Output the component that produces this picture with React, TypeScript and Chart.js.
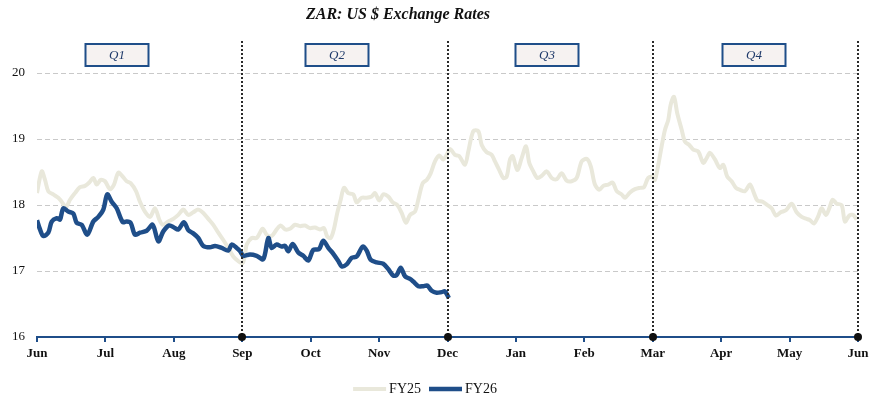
import React, { useEffect, useRef } from 'react';
import { Chart, registerables } from 'chart.js';

Chart.register(...registerables);

// ---------- data ----------
const monthLabels = ['Jun', 'Jul', 'Aug', 'Sep', 'Oct', 'Nov', 'Dec', 'Jan', 'Feb', 'Mar', 'Apr', 'May', 'Jun'];
const yTickValues = [16, 17, 18, 19, 20];
const quarterLabels = ['Q1', 'Q2', 'Q3', 'Q4'];
const quarterLabelPos = [1.17, 4.39, 7.46, 10.48]; // in month units
const quarterBounds = [3, 6, 9, 12]; // month units

// position in months from 1 June
const fy25Pos = [
  0, 0.069, 0.117, 0.165, 0.238, 0.311, 0.361, 0.424, 0.482, 0.555,
  0.628, 0.702, 0.764, 0.823, 0.873, 0.931, 0.994, 1.067, 1.125, 1.188,
  1.253, 1.311, 1.369, 1.447, 1.505, 1.578, 1.652, 1.725, 1.787, 1.837,
  1.919, 1.992, 2.065, 2.138, 2.211, 2.284, 2.357, 2.431, 2.504, 2.577,
  2.65, 2.723, 2.796, 2.869, 2.942, 3.006, 3.04, 3.065, 3.138, 3.211,
  3.299, 3.357, 3.43, 3.503, 3.562, 3.625, 3.698, 3.771, 3.844, 3.917,
  3.99, 4.063, 4.136, 4.195, 4.243, 4.293, 4.341, 4.389, 4.439, 4.487,
  4.55, 4.623, 4.673, 4.746, 4.819, 4.892, 4.94, 5.003, 5.061, 5.134,
  5.199, 5.266, 5.33, 5.393, 5.452, 5.525, 5.573, 5.637, 5.696, 5.754,
  5.817, 5.88, 5.938, 5.988, 6.036, 6.109, 6.172, 6.255, 6.304, 6.377,
  6.45, 6.5, 6.573, 6.646, 6.694, 6.757, 6.815, 6.865, 6.913, 6.953,
  7.02, 7.084, 7.147, 7.195, 7.254, 7.312, 7.376, 7.45, 7.523, 7.596,
  7.669, 7.742, 7.815, 7.888, 7.961, 8.034, 8.093, 8.155, 8.218, 8.277,
  8.35, 8.414, 8.473, 8.546, 8.594, 8.667, 8.74, 8.813, 8.872, 8.934,
  9.008, 9.032, 9.081, 9.13, 9.179, 9.227, 9.262, 9.31, 9.358, 9.423,
  9.471, 9.534, 9.592, 9.665, 9.738, 9.788, 9.836, 9.909, 9.982, 10.031,
  10.089, 10.153, 10.216, 10.275, 10.348, 10.421, 10.479, 10.528, 10.607, 10.674,
  10.738, 10.801, 10.87, 10.947, 11.03, 11.103, 11.177, 11.25, 11.298, 11.356,
  11.419, 11.469, 11.532, 11.58, 11.63, 11.688, 11.761, 11.809, 11.872, 11.931,
  11.98,
];
const fy25Rate = [
  18.18, 18.51, 18.38, 18.21, 18.16, 18.11, 18.05, 17.97, 18.08, 18.18,
  18.27, 18.29, 18.34, 18.41, 18.31, 18.38, 18.36, 18.24, 18.31, 18.49,
  18.43, 18.36, 18.33, 18.21, 18.05, 17.9, 17.82, 17.95, 17.78, 17.7,
  17.75, 17.79, 17.85, 17.93, 17.85, 17.89, 17.93, 17.88, 17.79, 17.7,
  17.58, 17.47, 17.35, 17.22, 17.15, 17.12, 17.25, 17.4, 17.5, 17.5,
  17.64, 17.55, 17.53, 17.63, 17.69, 17.63, 17.64, 17.7, 17.68, 17.69,
  17.65, 17.66, 17.63, 17.65, 17.52, 17.5, 17.64, 17.88, 18.08, 18.26,
  18.18, 18.16, 18.04, 18.11, 18.11, 18.13, 18.18, 18.07, 18.16, 18.13,
  18.04, 18.0, 17.88, 17.73, 17.85, 17.9, 18.08, 18.33, 18.38, 18.48,
  18.66, 18.75, 18.69, 18.76, 18.85, 18.76, 18.74, 18.61, 18.81, 19.12,
  19.12, 18.91, 18.8, 18.76, 18.66, 18.53, 18.41, 18.43, 18.69, 18.74,
  18.53, 18.71, 18.89, 18.64, 18.51, 18.41, 18.44, 18.51, 18.41, 18.39,
  18.48, 18.37, 18.36, 18.41, 18.66, 18.7, 18.59, 18.31, 18.23, 18.29,
  18.31, 18.34, 18.21, 18.16, 18.11, 18.19, 18.24, 18.26, 18.27, 18.41,
  18.43, 18.38, 18.61, 18.89, 19.14, 19.29, 19.52, 19.64, 19.39, 19.14,
  18.96, 18.91, 18.84, 18.81, 18.64, 18.71, 18.79, 18.69, 18.56, 18.61,
  18.43, 18.36, 18.26, 18.23, 18.21, 18.31, 18.18, 18.07, 18.05, 18.0,
  17.95, 17.84, 17.89, 17.92, 18.02, 17.89, 17.82, 17.79, 17.77, 17.72,
  17.83, 17.95, 17.85, 17.95, 18.08, 18.02, 18.0, 17.75, 17.84, 17.85,
  17.78,
];

const fy26Pos = [
  0, 0.044, 0.092, 0.165, 0.215, 0.288, 0.336, 0.384, 0.457, 0.531,
  0.58, 0.653, 0.735, 0.823, 0.896, 0.969, 1.027, 1.092, 1.165, 1.253,
  1.311, 1.369, 1.432, 1.505, 1.603, 1.691, 1.773, 1.846, 1.934, 2.002,
  2.065, 2.148, 2.211, 2.284, 2.357, 2.431, 2.528, 2.602, 2.699, 2.796,
  2.846, 2.919, 2.97, 3.015, 3.113, 3.211, 3.308, 3.381, 3.43, 3.503,
  3.576, 3.625, 3.673, 3.737, 3.819, 3.892, 3.965, 4.038, 4.122, 4.184,
  4.258, 4.331, 4.404, 4.453, 4.526, 4.6, 4.673, 4.76, 4.819, 4.877,
  4.965, 5.061, 5.134, 5.208, 5.257, 5.316, 5.379, 5.452, 5.5, 5.573,
  5.646, 5.704, 5.769, 5.842, 5.915, 5.963, 6.02,
];
const fy26Rate = [
  17.77, 17.63, 17.53, 17.58, 17.75, 17.8, 17.78, 17.95, 17.9, 17.87,
  17.73, 17.7, 17.55, 17.75, 17.82, 17.93, 18.16, 18.05, 17.95, 17.74,
  17.75, 17.73, 17.55, 17.58, 17.61, 17.7, 17.45, 17.6, 17.69, 17.66,
  17.63, 17.74, 17.62, 17.57, 17.5, 17.38, 17.36, 17.38, 17.35, 17.31,
  17.4, 17.35, 17.3, 17.23, 17.25, 17.23, 17.18, 17.5, 17.35, 17.4,
  17.37, 17.38, 17.3, 17.41, 17.28, 17.23, 17.16, 17.32, 17.33, 17.46,
  17.35, 17.26, 17.15, 17.07, 17.1, 17.2, 17.22, 17.37, 17.31, 17.17,
  17.13, 17.11, 17.03, 16.93, 16.94, 17.05, 16.92, 16.88, 16.84, 16.77,
  16.77, 16.78, 16.7, 16.67, 16.68, 16.69, 16.59,
];

// ---------- styles ----------
const FONT = '"Liberation Serif", "Times New Roman", serif';
const BLUE = '#1f4e89';
const PALE = '#e9e8db';
const TITLE = 'ZAR: US $ Exchange Rates';

const decorPlugin = {
  id: 'decor',
  afterDatasetsDraw(chart: any) {
    const { ctx, chartArea, scales } = chart;
    const x = scales.x;
    ctx.save();
    ctx.strokeStyle = '#2a2a2a';
    ctx.lineWidth = 2;
    ctx.setLineDash([2, 2]);
    quarterBounds.forEach((q) => {
      const px = Math.round(x.getPixelForValue(q));
      ctx.beginPath();
      ctx.moveTo(px, chartArea.top);
      ctx.lineTo(px, chartArea.bottom);
      ctx.stroke();
    });
    ctx.setLineDash([]);
    ctx.restore();
  },
  afterDraw(chart: any) {
    const { ctx, chartArea, scales } = chart;
    const x = scales.x;
    ctx.save();
    ctx.fillStyle = '#111';
    quarterBounds.forEach((q) => {
      const px = Math.round(x.getPixelForValue(q));
      ctx.beginPath();
      ctx.arc(px, chartArea.bottom, 4, 0, Math.PI * 2);
      ctx.fill();
    });
    quarterLabels.forEach((lab, i) => {
      const cx = Math.round(x.getPixelForValue(quarterLabelPos[i]));
      const w = 63;
      const h = 22;
      const top = chartArea.top + 3;
      ctx.fillStyle = '#f6f2f1';
      ctx.fillRect(cx - w / 2, top, w, h);
      ctx.strokeStyle = BLUE;
      ctx.lineWidth = 2;
      ctx.strokeRect(cx - w / 2, top, w, h);
      ctx.fillStyle = '#1f3a6a';
      ctx.font = `italic 13px ${FONT}`;
      ctx.textAlign = 'center';
      ctx.textBaseline = 'middle';
      ctx.fillText(lab, cx, top + h / 2 + 1);
    });
    ctx.fillStyle = '#111';
    ctx.font = `italic bold 16px ${FONT}`;
    ctx.textAlign = 'center';
    ctx.textBaseline = 'middle';
    ctx.fillText(TITLE, 398, 15);
    ctx.font = `14px ${FONT}`;
    const lineLen = 33;
    const gap = 3;
    const itemGap = 8;
    const items = chart.data.datasets.map((d: any) => ({
      label: d.label,
      color: d.borderColor,
      width: d.borderWidth,
      tw: ctx.measureText(d.label).width,
    }));
    const total = items.reduce((s: number, it: any) => s + lineLen + gap + it.tw, 0) + itemGap * (items.length - 1);
    let lx = 425 - total / 2;
    const ly = 389;
    items.forEach((it: any) => {
      ctx.strokeStyle = it.color;
      ctx.lineWidth = it.width;
      ctx.beginPath();
      ctx.moveTo(lx, ly);
      ctx.lineTo(lx + lineLen, ly);
      ctx.stroke();
      ctx.fillStyle = '#111';
      ctx.textAlign = 'left';
      ctx.textBaseline = 'middle';
      ctx.fillText(it.label, lx + lineLen + gap, ly);
      lx += lineLen + gap + it.tw + itemGap;
    });
    ctx.restore();
  },
};

export default function App() {
  const canvasRef = useRef<HTMLCanvasElement | null>(null);

  useEffect(() => {
    document.body.style.margin = '0';
    const canvas = canvasRef.current;
    if (!canvas) return;
    const chart = new Chart(canvas, {
      type: 'line',
      data: {
        datasets: [
          {
            label: 'FY25',
            data: fy25Pos.map((p, i) => ({ x: p, y: fy25Rate[i] })),
            borderColor: PALE,
            backgroundColor: PALE,
            borderWidth: 4,
            pointRadius: 0,
            tension: 0.3,
            order: 2,
          },
          {
            label: 'FY26',
            data: fy26Pos.map((p, i) => ({ x: p, y: fy26Rate[i] })),
            borderColor: BLUE,
            backgroundColor: BLUE,
            borderWidth: 4.5,
            pointRadius: 0,
            tension: 0.3,
            order: 1,
          },
        ],
      },
      options: {
        animation: false,
        responsive: true,
        maintainAspectRatio: false,
        layout: { padding: { left: 0, right: 15, top: 41, bottom: 0 } },
        plugins: {
          legend: { display: false },
          title: { display: false },
          tooltip: { enabled: false },
        },
        scales: {
          x: {
            type: 'linear',
            min: 0,
            max: 12,
            afterBuildTicks: (scale: any) => {
              scale.ticks = monthLabels.map((_, i) => ({ value: i }));
            },
            afterFit: (scale: any) => {
              scale.height = 62;
            },
            ticks: {
              autoSkip: false,
              maxRotation: 0,
              padding: 4,
              color: '#111',
              font: { family: FONT, size: 13, weight: 'bold' },
              callback: (v: any) => monthLabels[Math.round(Number(v))],
            },
            grid: {
              drawOnChartArea: false,
              drawTicks: true,
              tickLength: 5,
              color: BLUE,
              lineWidth: 2,
            },
            border: { display: true, color: BLUE, width: 2 },
          },
          y: {
            type: 'linear',
            min: 16,
            max: 20.485,
            afterBuildTicks: (scale: any) => {
              scale.ticks = yTickValues.map((v) => ({ value: v }));
            },
            afterFit: (scale: any) => {
              scale.width = 37;
            },
            ticks: {
              padding: 12,
              color: '#111',
              font: { family: FONT, size: 13 },
            },
            grid: {
              drawTicks: false,
              lineWidth: 1,
              color: (c: any) => (c.tick && c.tick.value === 16 ? 'rgba(0,0,0,0)' : '#c9c9c9'),
            },
            border: { display: false, dash: [5, 3] },
          },
        },
      },
      plugins: [decorPlugin],
    } as any);
    return () => chart.destroy();
  }, []);

  return (
    <div style={{ position: 'relative', width: 873, height: 399 }}>
      <canvas ref={canvasRef} />
    </div>
  );
}
